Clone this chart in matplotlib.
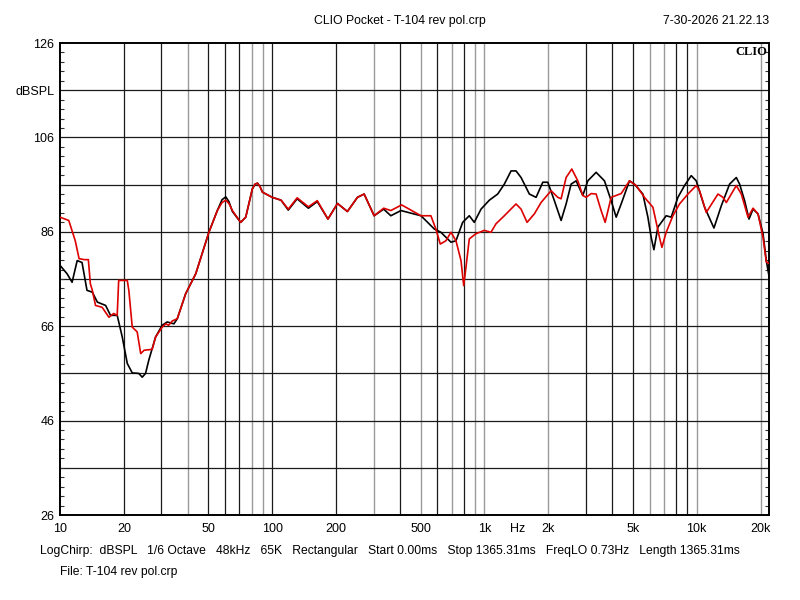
import numpy as np
import matplotlib
matplotlib.use("Agg")
import matplotlib.pyplot as plt
from matplotlib.ticker import FixedLocator, NullFormatter

# ---------------- data ----------------
red_freq = [10, 11, 11.8, 12.3, 13.05, 13.6, 13.9, 14.2, 14.7, 15.8, 17.0, 17.9, 18.6,
            18.9, 19.65, 20.75, 21.1, 21.9, 23.1, 24.0, 24.9, 27.2, 28.2, 30.3, 31.5,
            32.5, 33.8, 35.7, 39.1, 43.6, 50.3, 55.1, 58.0, 60.4, 62.5, 64.9, 71.0, 75.0, 80.6,
            83.0, 85.2, 87.5, 89.9, 100, 110, 119, 131, 148, 163, 183, 203, 226, 252, 271, 302,
            335, 362, 407, 450, 502, 559, 590, 619, 658, 695, 734, 775, 798, 818, 848,
            912, 998, 1073, 1133, 1240, 1408, 1487, 1587, 1718, 1847, 2059, 2215, 2296,
            2424, 2578, 2752, 2905, 3011, 3180, 3357, 3544, 3702, 3952, 4405, 4820,
            5183, 5673, 6216, 6677, 6853, 7180, 7721, 8296, 9089, 9945, 10310, 11090,
            11490, 12590, 13290, 13780, 15360, 16220, 17440, 18420, 19440, 20530,
            21270, 21900]
red_db = [89.1, 88.4, 84.1, 80.3, 80.1, 80.1, 75.0, 73.6, 70.4, 70.0, 67.9, 68.7, 68.3,
          75.7, 75.7, 75.7, 73.6, 65.8, 64.8, 60.2, 60.9, 61.1, 63.7, 65.8, 66.5,
          66.2, 67.1, 67.6, 72.9, 77.1, 85.9, 90.5, 92.2, 92.7, 92.0, 90.5, 88.0, 89.1, 95.1,
          96.1, 96.3, 95.6, 94.4, 93.3, 92.7, 90.8, 93.2, 91.3, 92.6, 88.7, 92.0, 90.3, 93.3, 94.0, 89.4,
          91.0, 90.5, 91.7, 90.6, 89.4, 89.4, 86.6, 83.4, 84.1, 85.9, 84.1, 79.9, 74.6, 78.5, 84.5,
          85.6, 86.3, 85.9, 87.7, 89.4, 91.9, 90.8, 88.0, 89.8, 92.2, 94.7, 93.3, 93.0,
          97.5, 99.3, 96.8, 93.7, 93.3, 94.1, 94.0, 90.5, 88.0, 93.3, 94.1, 96.8,
          95.8, 93.3, 91.2, 84.8, 82.7, 85.9, 89.4, 91.9, 94.0, 95.8, 94.7, 90.1,
          91.2, 94.0, 93.3, 92.2, 95.8, 94.0, 89.1, 91.0, 89.8, 84.8,
          79.6, 79.3]

black_freq = [10, 10.8, 11.4, 12.05, 12.7, 13.4, 14.2, 15.0, 16.4, 17.3, 18.6, 19.65,
              20.75, 21.9, 23.5, 24.4, 25.3, 26.2, 28.2, 30.3, 32.0, 34.4, 35.7, 39.1,
              43.6, 50.3, 55.1, 58.0, 60.4, 62.5, 64.9, 71.0, 75.0, 80.6, 83.0, 85.2, 87.5, 89.9,
              100, 110, 119, 131, 148, 163, 183, 203, 226, 252, 271, 302, 335, 362, 404, 502, 580, 623,
              695, 734, 789, 848, 895, 963, 1054, 1154, 1240, 1334, 1408, 1487, 1627,
              1750, 1882, 1987, 2134, 2296, 2424, 2559, 2702, 2905, 3068, 3357, 3674,
              3952, 4172, 4405, 4820, 5088, 5574, 5886, 6101, 6283, 6561, 7180, 7580,
              8153, 8760, 9419, 9945, 10890, 12050, 13050, 14280, 15360, 15920, 16810,
              17630, 18420, 19440, 20530, 21270, 21900]
black_db = [78.9, 77.1, 75.3, 79.9, 79.5, 73.6, 73.2, 71.1, 70.4, 68.3, 68.3, 63.7,
            58.1, 56.1, 56.0, 55.2, 56.0, 58.8, 63.7, 66.2, 66.9, 66.5, 67.6, 72.9,
            77.1, 85.9, 90.5, 92.8, 93.4, 92.4, 90.3, 88.0, 89.1, 95.1, 96.1, 96.3, 95.6, 94.4,
            93.3, 92.7, 90.6, 93.0, 91.0, 92.4, 88.7, 92.0, 90.3, 93.3, 94.0, 89.4, 90.8, 89.4,
            90.5, 89.4, 86.6, 85.9,
            83.8, 84.1, 88.0, 89.4, 88.0, 90.8, 92.7, 94.0, 96.1, 98.9, 98.9, 97.5, 94.0,
            93.3, 96.5, 96.5, 92.6, 88.4, 91.9, 96.1, 96.8, 93.7, 96.8, 98.6, 96.8,
            92.6, 89.1, 91.9, 96.8, 96.1, 94.0, 89.1, 84.8, 82.2, 87.0, 89.4, 89.1,
            93.3, 95.8, 97.9, 96.8, 91.2, 86.8, 91.5, 96.1, 97.5, 96.1, 92.6,
            88.7, 90.8, 89.8, 85.6, 79.9, 76.6]

x_tick_vals = [10, 20, 50, 100, 200, 500, 1000, 1434, 2000, 5000, 10000, 20000]
x_tick_labels = ["10", "20", "50", "100", "200", "500", "1k", "Hz", "2k", "5k", "10k", "20k"]
y_tick_vals = [26, 46, 66, 86, 106, 116, 126]
y_tick_labels = ["26", "46", "66", "86", "106", "dBSPL", "126"]

grid_black = [20, 30, 50, 60, 70, 100, 200, 400, 600, 800, 3000, 4000, 5000, 8000, 9000]
grid_gray = [40, 80, 90, 300, 500, 700, 900, 1000, 2000, 6000, 7000, 10000, 20000]
grid_h = [36, 46, 56, 66, 76, 86, 96, 106, 116]

title = "CLIO Pocket - T-104 rev pol.crp"
date_text = "7-30-2026 21.22.13"
footer1 = ("LogChirp:  dBSPL   1/6 Octave   48kHz   65K   Rectangular   Start 0.00ms   "
           "Stop 1365.31ms   FreqLO 0.73Hz   Length 1365.31ms")
footer2 = "File: T-104 rev pol.crp"

# ---------------- drawing ----------------
plt.rcParams['font.family'] = ['Liberation Sans', 'DejaVu Sans']
fig = plt.figure(figsize=(8, 6), dpi=100)
ax = fig.add_axes([60/800, 1 - 515/600, (769 - 60)/800, (515 - 43)/600])
ax.set_xscale('log')
ax.set_xlim(10, 21900)
ax.set_ylim(26, 126)

for f in grid_black:
    ax.axvline(f, color='#1a1a1a', lw=0.9, zorder=1)
for f in grid_gray:
    ax.axvline(f, color='#9a9a9a', lw=1.0, zorder=1)
for h in grid_h:
    ax.axhline(h, color='#1a1a1a', lw=0.9, zorder=1)

ax.plot(black_freq, black_db, color='black', lw=1.2, zorder=3,
        solid_joinstyle='round', solid_capstyle='round')
ax.plot(red_freq, red_db, color='#dd0000', lw=1.2, zorder=4,
        solid_joinstyle='round', solid_capstyle='round')

for s in ax.spines.values():
    s.set_linewidth(1.4)
    s.set_color('black')

ax.xaxis.set_major_locator(FixedLocator(x_tick_vals))
ax.set_xticklabels(x_tick_labels)
ax.xaxis.set_minor_locator(FixedLocator([]))
ax.xaxis.set_minor_formatter(NullFormatter())
ax.tick_params(axis='x', which='both', length=0, pad=6, labelsize=9)

ax.yaxis.set_major_locator(FixedLocator(y_tick_vals))
ax.set_yticklabels(y_tick_labels)
ax.yaxis.set_minor_locator(FixedLocator(np.arange(28, 126, 2)))
ax.tick_params(axis='y', which='major', length=0, pad=4, labelsize=9)
ax.tick_params(axis='y', which='minor', direction='in', length=3, width=0.8,
               left=True, right=True, color='#333333')

ax.text(0.998, 0.994, "CLIO", transform=ax.transAxes, ha='right', va='top',
        fontsize=9, fontweight='bold', family='Liberation Serif', zorder=5)

fig.text(400/800, 1 - 21/600, title, ha='center', va='center', fontsize=8.8)
fig.text(769/800, 1 - 21/600, date_text, ha='right', va='center', fontsize=8.8)
fig.text(40/800, 1 - 551/600, footer1, ha='left', va='center', fontsize=8.7)
fig.text(60/800, 1 - 572/600, footer2, ha='left', va='center', fontsize=8.7)

fig.savefig("out.png", dpi=100)
